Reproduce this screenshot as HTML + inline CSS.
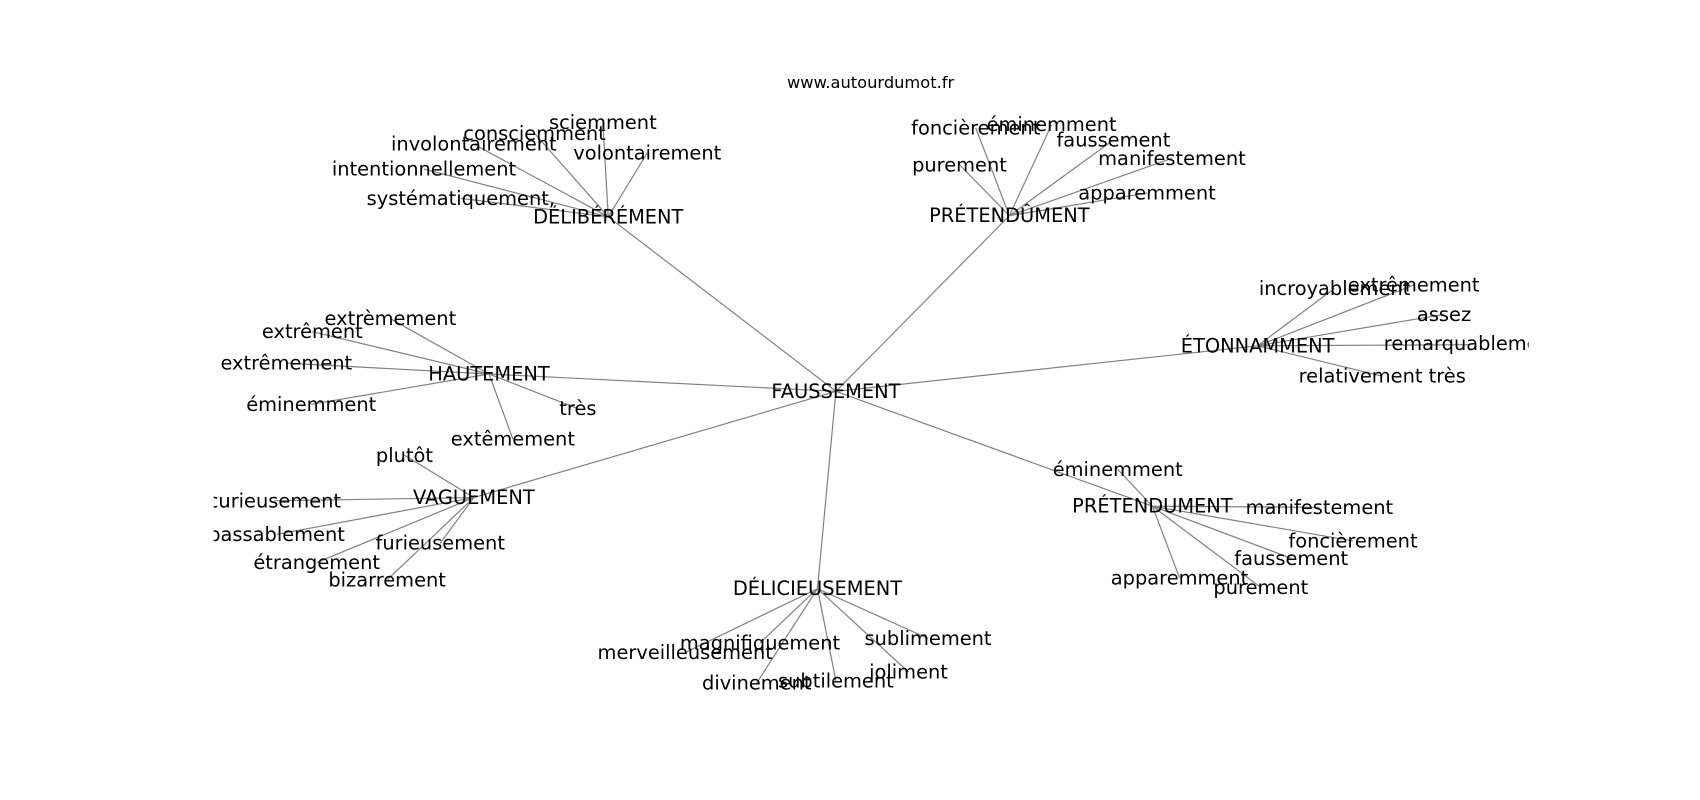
<!DOCTYPE html>
<html><head><meta charset="utf-8"><style>
html,body{margin:0;padding:0;background:#fff;}
svg{display:block;}
text{font-family:"DejaVu Sans","Liberation Sans",sans-serif;fill:#000;}
</style></head><body>
<svg width="1700" height="800" viewBox="0 0 1568 738" xmlns="http://www.w3.org/2000/svg">
<defs><clipPath id="ax"><rect x="197" y="0" width="1213" height="738"/></clipPath></defs>
<text x="803" y="76" font-size="15" text-anchor="middle" dominant-baseline="central">www.autourdumot.fr</text>
<g clip-path="url(#ax)">
<g stroke="#808080" stroke-width="1.1" fill="none">
<line x1="771" y1="361" x2="561" y2="200"/>
<line x1="771" y1="361" x2="931" y2="199"/>
<line x1="771" y1="361" x2="1160" y2="319"/>
<line x1="771" y1="361" x2="451" y2="345"/>
<line x1="771" y1="361" x2="437" y2="459"/>
<line x1="771" y1="361" x2="754" y2="543"/>
<line x1="771" y1="361" x2="1063" y2="467"/>
<line x1="561" y1="200" x2="556" y2="113"/>
<line x1="561" y1="200" x2="493" y2="123"/>
<line x1="561" y1="200" x2="437" y2="133"/>
<line x1="561" y1="200" x2="597" y2="141"/>
<line x1="561" y1="200" x2="391" y2="156"/>
<line x1="561" y1="200" x2="425" y2="183"/>
<line x1="931" y1="199" x2="900" y2="118"/>
<line x1="931" y1="199" x2="970" y2="115"/>
<line x1="931" y1="199" x2="1027" y2="129"/>
<line x1="931" y1="199" x2="1081" y2="146"/>
<line x1="931" y1="199" x2="885" y2="152"/>
<line x1="931" y1="199" x2="1058" y2="178"/>
<line x1="1160" y1="319" x2="1231" y2="266"/>
<line x1="1160" y1="319" x2="1304" y2="263"/>
<line x1="1160" y1="319" x2="1332" y2="290"/>
<line x1="1160" y1="319" x2="1357" y2="318"/>
<line x1="1160" y1="319" x2="1275" y2="347"/>
<line x1="451" y1="345" x2="360" y2="294"/>
<line x1="451" y1="345" x2="288" y2="306"/>
<line x1="451" y1="345" x2="264" y2="335"/>
<line x1="451" y1="345" x2="287" y2="373"/>
<line x1="451" y1="345" x2="533" y2="377"/>
<line x1="451" y1="345" x2="473" y2="405"/>
<line x1="437" y1="459" x2="373" y2="420"/>
<line x1="437" y1="459" x2="253" y2="462"/>
<line x1="437" y1="459" x2="255" y2="493"/>
<line x1="437" y1="459" x2="406" y2="501"/>
<line x1="437" y1="459" x2="292" y2="519"/>
<line x1="437" y1="459" x2="357" y2="535"/>
<line x1="754" y1="543" x2="701" y2="593"/>
<line x1="754" y1="543" x2="632" y2="602"/>
<line x1="754" y1="543" x2="698" y2="630"/>
<line x1="754" y1="543" x2="771" y2="628"/>
<line x1="754" y1="543" x2="856" y2="589"/>
<line x1="754" y1="543" x2="838" y2="620"/>
<line x1="1063" y1="467" x2="1031" y2="433"/>
<line x1="1063" y1="467" x2="1217" y2="468"/>
<line x1="1063" y1="467" x2="1248" y2="499"/>
<line x1="1063" y1="467" x2="1191" y2="515"/>
<line x1="1063" y1="467" x2="1163" y2="542"/>
<line x1="1063" y1="467" x2="1088" y2="533"/>
</g>
<g font-size="17.9" text-anchor="middle" dominant-baseline="central">
<text x="771" y="361">FAUSSEMENT</text>
<text x="561" y="200">DÉLIBÉRÉMENT</text>
<text x="556" y="113">sciemment</text>
<text x="493" y="123">consciemment</text>
<text x="437" y="133">involontairement</text>
<text x="597" y="141">volontairement</text>
<text x="391" y="156">intentionnellement</text>
<text x="425" y="183">systématiquement,</text>
<text x="931" y="199">PRÉTENDÛMENT</text>
<text x="900" y="118">foncièrement</text>
<text x="970" y="115">éminemment</text>
<text x="1027" y="129">faussement</text>
<text x="1081" y="146">manifestement</text>
<text x="885" y="152">purement</text>
<text x="1058" y="178">apparemment</text>
<text x="1160" y="319">ÉTONNAMMENT</text>
<text x="1231" y="266">incroyablement</text>
<text x="1304" y="263">extrêmement</text>
<text x="1332" y="290">assez</text>
<text x="1357" y="317">remarquablement</text>
<text x="1275" y="347">relativement très</text>
<text x="451" y="345">HAUTEMENT</text>
<text x="360" y="294">extrèmement</text>
<text x="288" y="306">extrêment</text>
<text x="264" y="335">extrêmement</text>
<text x="287" y="373">éminemment</text>
<text x="533" y="377">très</text>
<text x="473" y="405">extêmement</text>
<text x="437" y="459">VAGUEMENT</text>
<text x="373" y="420">plutôt</text>
<text x="253" y="462">curieusement</text>
<text x="255" y="493">passablement</text>
<text x="406" y="501">furieusement</text>
<text x="292" y="519">étrangement</text>
<text x="357" y="535">bizarrement</text>
<text x="754" y="543">DÉLICIEUSEMENT</text>
<text x="701" y="593">magnifiquement</text>
<text x="632" y="602">merveilleusement</text>
<text x="698" y="630">divinement</text>
<text x="771" y="628">subtilement</text>
<text x="856" y="589">sublimement</text>
<text x="838" y="620">joliment</text>
<text x="1063" y="467">PRÉTENDUMENT</text>
<text x="1031" y="433">éminemment</text>
<text x="1217" y="468">manifestement</text>
<text x="1248" y="499">foncièrement</text>
<text x="1191" y="515">faussement</text>
<text x="1163" y="542">purement</text>
<text x="1088" y="533">apparemment</text>
</g>
</g>
</svg>
</body></html>
